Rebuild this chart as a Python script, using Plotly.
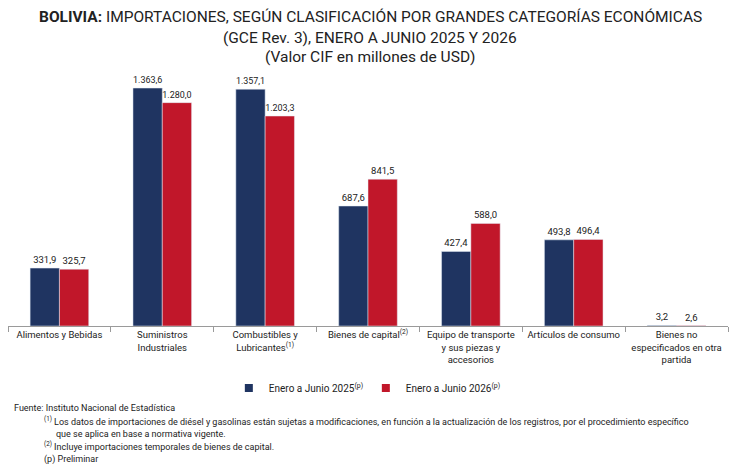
import plotly.graph_objects as go

categorias = [
    "Alimentos y Bebidas",
    "Suministros<br>Industriales",
    "Combustibles y<br>Lubricantes<sup>(1)</sup>",
    "Bienes de capital<sup>(2)</sup>",
    "Equipo de transporte<br>y sus piezas y<br>accesorios",
    "Artículos de consumo",
    "Bienes no<br>especificados en otra<br>partida",
]
valores_2025 = [331.9, 1363.6, 1357.1, 687.6, 427.4, 493.8, 3.2]
valores_2026 = [325.7, 1280.0, 1203.3, 841.5, 588.0, 496.4, 2.6]
series = ["Enero a Junio 2025<sup>(p)</sup>", "Enero a Junio 2026<sup>(p)</sup>"]

azul = "#1f3461"
rojo = "#c1172a"
fuente = "Roboto, Open Sans, sans-serif"

fig = go.Figure()
for nombre, valores, color in [(series[0], valores_2025, azul), (series[1], valores_2026, rojo)]:
    fig.add_trace(go.Bar(
        x=categorias, y=valores, name=nombre, showlegend=False,
        marker_color=color, texttemplate="%{y:,.1f}", textposition="outside",
        textfont=dict(size=9.5, color="#222222"), cliponaxis=False,
    ))
# entradas de leyenda con cuadrado pequeno
for nombre, color in [(series[0], azul), (series[1], rojo)]:
    fig.add_trace(go.Scatter(
        x=[None], y=[None], mode="markers", name=nombre,
        marker=dict(symbol="square", size=8, color=color),
    ))

fig.update_layout(
    width=733, height=469,
    margin=dict(l=8, r=5, t=70, b=143),
    paper_bgcolor="white", plot_bgcolor="white",
    barmode="group", bargap=0.43, bargroupgap=0,
    separators=",.",
    font=dict(family=fuente, size=10, color="#222222"),
    showlegend=True,
    legend=dict(orientation="h", x=0.497, xanchor="center", y=-0.242, yanchor="middle",
                font=dict(size=10), itemwidth=30, traceorder="normal",
                entrywidth=92),
)
fig.update_xaxes(
    showline=True, linecolor="#9a9a9a", linewidth=1,
    ticks="outside", tickson="boundaries", ticklen=5, tickcolor="#9a9a9a",
    tickfont=dict(size=9.5, color="#222222"), tickangle=0,
)
fig.update_yaxes(visible=False, range=[0, 1467])

def py(ypix):
    return (326 - ypix) / 256

def px_(xpix):
    return (xpix - 8) / 720

titulo = [
    ("<b>BOLIVIA:</b> IMPORTACIONES, SEGÚN CLASIFICACIÓN POR GRANDES CATEGORÍAS ECONÓMICAS", 17),
    ("(GCE Rev. 3), ENERO A JUNIO 2025 Y 2026", 38),
    ("(Valor CIF en millones de USD)", 57),
]
for texto, y in titulo:
    fig.add_annotation(text=texto, x=px_(370), y=py(y), xref="paper", yref="paper",
                       showarrow=False, xanchor="center", yanchor="middle",
                       font=dict(size=15.5, color="#222222"))

notas = [
    ("Fuente: Instituto Nacional de Estadística", 12, 408),
    ("<sup>(1)</sup> Los datos de importaciones de diésel y gasolinas están sujetas a modificaciones, en función a la actualización de los registros, por el procedimiento específico", 42, 421),
    ("que se aplica en base a normativa vigente.", 54, 434),
    ("<sup>(2)</sup> Incluye importaciones temporales de bienes de capital.", 42, 446),
    ("(p) Preliminar", 42, 459),
]
for texto, x, y in notas:
    fig.add_annotation(text=texto, x=px_(x), y=py(y), xref="paper", yref="paper",
                       showarrow=False, xanchor="left", yanchor="middle",
                       font=dict(size=9, color="#222222"))

fig.write_html("out.html", config={"displayModeBar": False},
               post_script="document.body.style.margin='0px';")
